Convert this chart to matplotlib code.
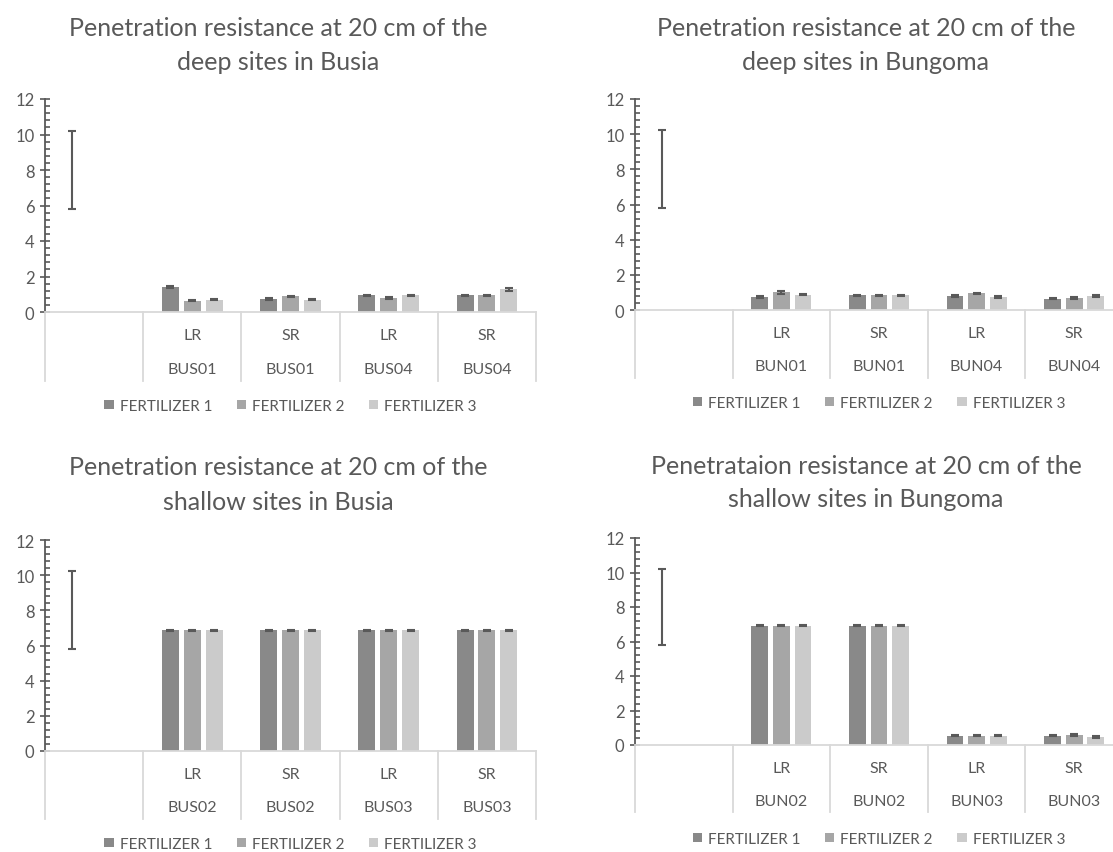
import matplotlib
matplotlib.use("Agg")
import matplotlib.pyplot as plt
from matplotlib.patches import Patch
from matplotlib.ticker import MultipleLocator

plt.rcParams['font.family'] = ['Lato', 'DejaVu Sans']

# ---- data -------------------------------------------------------------
series_names = ["FERTILIZER 1", "FERTILIZER 2", "FERTILIZER 3"]
series_colors = ["#898989", "#a6a6a6", "#cbcbcb"]

# reference (empty) category: only its error bar is shown
ref_mean = 8.0
ref_err = 2.22

# Busia, deep sites
busia_deep_season = ["LR", "SR", "LR", "SR"]
busia_deep_site = ["BUS01", "BUS01", "BUS04", "BUS04"]
busia_deep_f1 = [1.41, 0.73, 0.94, 0.94]
busia_deep_f2 = [0.64, 0.88, 0.79, 0.94]
busia_deep_f3 = [0.69, 0.69, 0.94, 1.29]
busia_deep_e1 = [0.05, 0.04, 0.04, 0.04]
busia_deep_e2 = [0.04, 0.04, 0.04, 0.04]
busia_deep_e3 = [0.04, 0.04, 0.04, 0.08]

# Bungoma, deep sites
bungoma_deep_season = ["LR", "SR", "LR", "SR"]
bungoma_deep_site = ["BUN01", "BUN01", "BUN04", "BUN04"]
bungoma_deep_f1 = [0.74, 0.84, 0.80, 0.65]
bungoma_deep_f2 = [1.01, 0.84, 0.95, 0.68]
bungoma_deep_f3 = [0.87, 0.84, 0.74, 0.80]
bungoma_deep_e1 = [0.04, 0.04, 0.04, 0.04]
bungoma_deep_e2 = [0.09, 0.04, 0.04, 0.04]
bungoma_deep_e3 = [0.04, 0.04, 0.04, 0.04]

# Busia, shallow sites
busia_shallow_season = ["LR", "SR", "LR", "SR"]
busia_shallow_site = ["BUS02", "BUS02", "BUS03", "BUS03"]
busia_shallow_f1 = [6.87, 6.87, 6.87, 6.87]
busia_shallow_f2 = [6.87, 6.87, 6.87, 6.87]
busia_shallow_f3 = [6.87, 6.87, 6.87, 6.87]
busia_shallow_e1 = [0.02, 0.02, 0.02, 0.02]
busia_shallow_e2 = [0.02, 0.02, 0.02, 0.02]
busia_shallow_e3 = [0.02, 0.02, 0.02, 0.02]

# Bungoma, shallow sites
bungoma_shallow_season = ["LR", "SR", "LR", "SR"]
bungoma_shallow_site = ["BUN02", "BUN02", "BUN03", "BUN03"]
bungoma_shallow_f1 = [6.91, 6.91, 0.54, 0.54]
bungoma_shallow_f2 = [6.91, 6.91, 0.54, 0.57]
bungoma_shallow_f3 = [6.91, 6.91, 0.54, 0.46]
bungoma_shallow_e1 = [0.03, 0.03, 0.04, 0.04]
bungoma_shallow_e2 = [0.03, 0.03, 0.04, 0.05]
bungoma_shallow_e3 = [0.03, 0.03, 0.04, 0.04]

titles = [
    ("Penetration resistance at 20 cm of the", "deep sites in Busia"),
    ("Penetration resistance at 20 cm of the", "deep sites in Bungoma"),
    ("Penetration resistance at 20 cm of the", "shallow sites in Busia"),
    ("Penetrataion resistance at 20 cm of the", "shallow sites in Bungoma"),
]

panels = [
    (busia_deep_season, busia_deep_site,
     [busia_deep_f1, busia_deep_f2, busia_deep_f3],
     [busia_deep_e1, busia_deep_e2, busia_deep_e3]),
    (bungoma_deep_season, bungoma_deep_site,
     [bungoma_deep_f1, bungoma_deep_f2, bungoma_deep_f3],
     [bungoma_deep_e1, bungoma_deep_e2, bungoma_deep_e3]),
    (busia_shallow_season, busia_shallow_site,
     [busia_shallow_f1, busia_shallow_f2, busia_shallow_f3],
     [busia_shallow_e1, busia_shallow_e2, busia_shallow_e3]),
    (bungoma_shallow_season, bungoma_shallow_site,
     [bungoma_shallow_f1, bungoma_shallow_f2, bungoma_shallow_f3],
     [bungoma_shallow_e1, bungoma_shallow_e2, bungoma_shallow_e3]),
]

# ---- layout (pixels) ---------------------------------------------------
W, H = 1113, 853
# left, width, y of the zero line, y of the top (12), title centre x,
# y of both title lines, offsets below zero for: season label, site label,
# box bottom, legend
geom = [
    dict(left=45, width=491, zero=313, top=100, tx=278, ty=(28, 62),
         season=23, site=57, box=69, leg=94),
    dict(left=635, width=488, zero=311, top=100, tx=866, ty=(28, 62),
         season=23, site=56, box=68, leg=93),
    dict(left=45, width=491, zero=752, top=541, tx=278, ty=(468, 502),
         season=23, site=56, box=68, leg=93),
    dict(left=635, width=488, zero=746, top=539, tx=866, ty=(466, 500),
         season=23, site=56, box=67, leg=94),
]

TEXT = "#595959"
AXIS = "#595959"
GRID = "#d9d9d9"

fig = plt.figure(figsize=(W / 100, H / 100), dpi=100)

bar_w = 0.172
step = 0.222
offsets = [-step, 0.0, step]

for (season, site, vals, errs), g, title in zip(panels, geom, titles):
    h_px = g["zero"] - g["top"]
    ax = fig.add_axes([g["left"] / W, (H - g["zero"]) / H, g["width"] / W, h_px / H])
    cats = list(range(1, len(season) + 1))

    for k in range(3):
        xs = [c + offsets[k] for c in cats]
        ax.bar(xs, vals[k], width=bar_w, color=series_colors[k], zorder=2)
        ax.errorbar(xs, vals[k], yerr=errs[k], fmt="none", ecolor=AXIS,
                    elinewidth=1.5, capsize=3.2, capthick=1.5, zorder=3)

    # error bar on the empty first category
    ax.errorbar([0 + offsets[0]], [ref_mean], yerr=[ref_err], fmt="none",
                ecolor=AXIS, elinewidth=1.5, capsize=3.2, capthick=1.5, zorder=3)

    ax.set_xlim(-0.5, 4.5)
    ax.set_ylim(0, 12)
    ax.yaxis.set_major_locator(MultipleLocator(2))
    ax.yaxis.set_minor_locator(MultipleLocator(0.4))
    ax.tick_params(axis="y", which="major", direction="inout", length=7,
                   width=1.2, color=AXIS, labelcolor=TEXT, labelsize=12, pad=4)
    ax.tick_params(axis="y", which="minor", direction="in", length=3.5,
                   width=1.2, color=AXIS)
    ax.set_xticks([])
    for s in ("top", "right"):
        ax.spines[s].set_visible(False)
    ax.spines["left"].set_color(AXIS)
    ax.spines["left"].set_linewidth(1.3)
    ax.spines["bottom"].set_color(GRID)
    ax.spines["bottom"].set_linewidth(1.3)
    ax.set_facecolor("none")

    # category boxes below the axis
    xt = ax.get_xaxis_transform()
    box_frac = g["box"] / h_px
    for xb in [i - 0.5 for i in range(len(cats) + 2)]:
        ax.plot([xb, xb], [0, -box_frac], transform=xt, color=GRID, lw=1.3,
                clip_on=False, zorder=1)
    for c, sl, st in zip(cats, season, site):
        ax.annotate(sl, xy=(c, 0), xycoords=xt, xytext=(0, -g["season"]),
                    textcoords="offset pixels", ha="center", va="center",
                    fontsize=11.5, color=TEXT, annotation_clip=False)
        ax.annotate(st, xy=(c, 0), xycoords=xt, xytext=(0, -g["site"]),
                    textcoords="offset pixels", ha="center", va="center",
                    fontsize=11.5, color=TEXT, annotation_clip=False)

    handles = [Patch(facecolor=c, edgecolor="none") for c in series_colors]
    ax.legend(handles, series_names, loc="center", ncol=3, frameon=False,
              bbox_to_anchor=(0.5, -g["leg"] / h_px), fontsize=11,
              labelcolor=TEXT, handlelength=0.6, handleheight=0.6,
              handletextpad=0.4, columnspacing=1.6)

    for line, ty in zip(title, g["ty"]):
        fig.text(g["tx"] / W, 1 - ty / H, line, ha="center", va="center",
                 fontsize=18, color=TEXT)

fig.savefig("out.png", dpi=100, facecolor="white")
